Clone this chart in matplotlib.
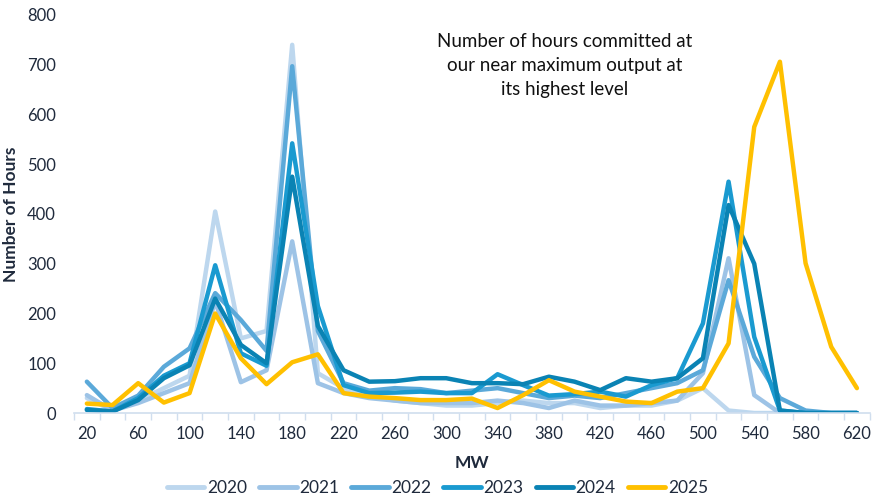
import matplotlib
matplotlib.use("Agg")
import matplotlib.pyplot as plt
import numpy as np

mw = list(range(20, 621, 20))
years = ["2020", "2021", "2022", "2023", "2024", "2025"]

y2020 = [30, 5, 25, 50, 75, 405, 150, 165, 740, 80, 50, 35, 25, 20, 15, 15, 20, 25, 20, 20, 10, 15, 15, 25, 50, 5, 0, 0, 0, 0, 0]
y2021 = [36, 5, 20, 40, 60, 225, 62, 86, 345, 60, 40, 30, 25, 20, 20, 20, 25, 20, 10, 25, 15, 15, 20, 25, 80, 311, 36, 0, 0, 0, 0]
y2022 = [63, 10, 35, 93, 130, 241, 187, 125, 697, 165, 60, 45, 50, 48, 40, 45, 50, 40, 30, 35, 30, 40, 50, 60, 86, 267, 113, 30, 5, 0, 0]
y2023 = [8, 3, 30, 75, 100, 297, 120, 95, 542, 215, 56, 40, 41, 43, 40, 40, 78, 56, 35, 38, 43, 33, 56, 70, 180, 465, 153, 5, 0, 0, 0]
y2024 = [6, 3, 26, 70, 96, 230, 137, 100, 475, 175, 86, 63, 64, 70, 70, 60, 60, 58, 73, 63, 46, 70, 63, 70, 110, 418, 300, 5, 0, 0, 0]
y2025 = [19, 16, 60, 21, 40, 200, 110, 58, 102, 118, 40, 33, 30, 26, 26, 29, 10, 36, 66, 43, 33, 23, 20, 43, 50, 140, 575, 706, 301, 133, 50]

series = [y2020, y2021, y2022, y2023, y2024, y2025]
colors = ["#BDD7EE", "#9DC3E6", "#5BA9D9", "#1A9AD0", "#0A83B4", "#FFC000"]

plt.rcParams['font.family'] = ['Lato', 'DejaVu Sans']
txtcol = "#1F2A3C"

fig = plt.figure(figsize=(8.75, 4.99), dpi=100)
ax = fig.add_axes([0.0846, 0.1723, 0.9094, 0.7977])

x = np.arange(len(mw))
for vals, c, lab in zip(series, colors, years):
    ax.plot(x, vals, color=c, lw=3.2, label=lab, solid_capstyle='round', solid_joinstyle='round')

ax.set_xlim(-0.5, len(mw) - 0.5)
ax.set_ylim(0, 800)
ax.set_yticks(range(0, 801, 100))
ax.tick_params(axis='y', length=0, labelsize=12, labelcolor=txtcol, pad=13)

ax.set_xticks(x[::2])
ax.set_xticklabels([str(v) for v in mw[::2]])
ax.set_xticks(np.arange(-0.5, len(mw), 1.0), minor=True)
ax.tick_params(axis='x', which='major', length=0, labelsize=12, labelcolor=txtcol, pad=9)
ax.tick_params(axis='x', which='minor', length=5, color="#D0DEEE", width=1)

for s in ["top", "right", "left"]:
    ax.spines[s].set_visible(False)
ax.spines["bottom"].set_color("#D0DEEE")
ax.spines["bottom"].set_linewidth(1.2)

ax.set_ylabel("Number of Hours", fontsize=12.5, fontweight='bold', color=txtcol, labelpad=6)
ax.set_xlabel("MW", fontsize=12.5, fontweight='bold', color=txtcol, labelpad=10)

ax.text(0.616, 0.874, "Number of hours committed at\nour near maximum output at\nits highest level",
        transform=ax.transAxes, ha='center', va='center', fontsize=13.5, color="#111111", linespacing=1.5)

leg = fig.legend(loc='lower center', bbox_to_anchor=(0.5, -0.025), ncol=6, frameon=False,
                 fontsize=12.5, handlelength=2.15, columnspacing=0.7, handletextpad=0.15)
for line in leg.get_lines():
    line.set_linewidth(3.5)
for t in leg.get_texts():
    t.set_color(txtcol)

fig.savefig("out.png", dpi=100)
